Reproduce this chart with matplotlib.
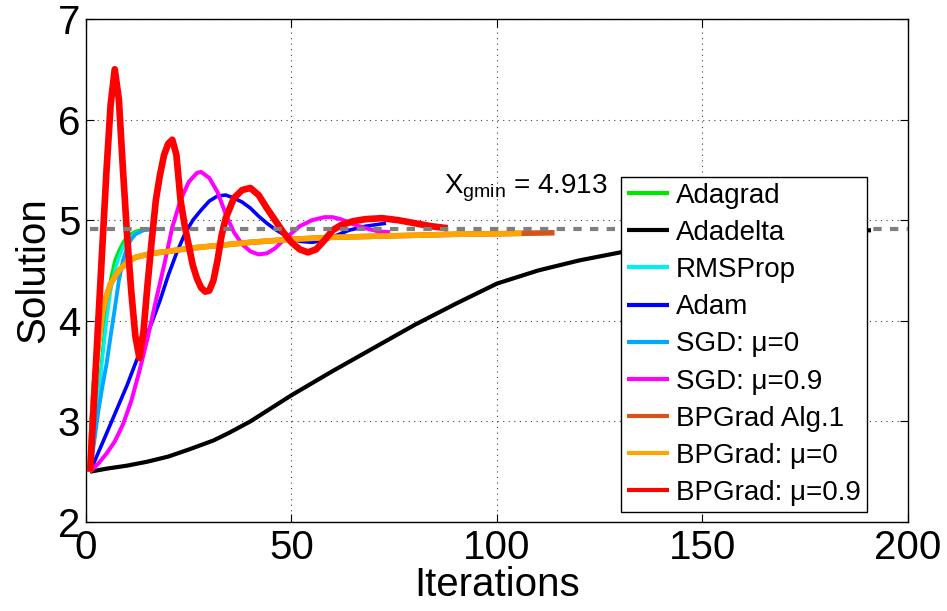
import matplotlib
matplotlib.use("Agg")
import matplotlib.pyplot as plt

plt.rcParams['font.family'] = ['Liberation Sans', 'DejaVu Sans']
plt.rcParams['mathtext.fontset'] = 'custom'
plt.rcParams['mathtext.rm'] = 'Liberation Sans'

x_gmin = 4.913

# Adagrad
adagrad_x = [1, 2, 3, 4, 5, 6, 7, 8, 9, 10, 12, 14, 16, 18]
adagrad_y = [2.5, 2.85, 3.25, 3.7, 4.1, 4.42, 4.6, 4.7, 4.78, 4.84, 4.89, 4.91, 4.913, 4.913]

# Adadelta
adadelta_x = [1, 5, 10, 15, 20, 25, 31, 35, 40, 45, 50, 55, 60, 70, 80, 90, 100, 110, 120, 130, 140, 150, 160, 170, 180, 191]
adadelta_y = [2.5, 2.53, 2.56, 2.6, 2.65, 2.72, 2.81, 2.89, 3.0, 3.13, 3.26, 3.38, 3.5, 3.73, 3.96, 4.17, 4.37, 4.5, 4.6, 4.68, 4.75, 4.8, 4.84, 4.87, 4.88, 4.9]

# RMSProp
rmsprop_x = [1, 2, 3, 4, 5, 6, 7, 8, 9, 10, 12, 14, 16, 18]
rmsprop_y = [2.5, 2.82, 3.2, 3.62, 4.0, 4.3, 4.5, 4.63, 4.73, 4.8, 4.87, 4.9, 4.91, 4.913]

# Adam
adam_x = [1, 5, 10, 13, 16, 18, 20, 22, 24, 26, 28, 30, 32, 34, 36, 38, 40, 42, 44, 46, 48, 50, 52, 55, 58, 61, 64, 68, 73]
adam_y = [2.5, 2.88, 3.36, 3.68, 3.98, 4.2, 4.45, 4.67, 4.86, 5.0, 5.1, 5.19, 5.24, 5.25, 5.22, 5.18, 5.12, 5.04, 4.97, 4.91, 4.86, 4.82, 4.79, 4.78, 4.8, 4.85, 4.9, 4.94, 4.97]

# SGD: mu=0
sgd0_x = [1, 2, 3, 4, 5, 6, 7, 8, 9, 10, 11, 12, 14, 16, 18]
sgd0_y = [2.5, 2.8, 3.1, 3.35, 3.57, 3.85, 4.12, 4.4, 4.6, 4.73, 4.81, 4.86, 4.9, 4.91, 4.913]

# SGD: mu=0.9
sgd9_x = [1, 3, 5, 7, 9, 11, 13, 15, 17, 19, 21, 23, 25, 27, 28, 30, 32, 34, 36, 38, 40, 42, 44, 46, 48, 50, 52, 55, 58, 60, 62, 65, 68, 71, 74]
sgd9_y = [2.5, 2.58, 2.68, 2.8, 2.97, 3.2, 3.5, 3.83, 4.2, 4.55, 4.93, 5.2, 5.38, 5.47, 5.48, 5.42, 5.28, 5.06, 4.88, 4.76, 4.69, 4.66, 4.67, 4.72, 4.8, 4.87, 4.94, 5.0, 5.03, 5.03, 5.01, 4.96, 4.92, 4.89, 4.88]

# BPGrad Alg.1
alg1_x = [1, 1.5, 2, 2.5, 3, 4, 5, 6, 8, 10, 12, 16, 20, 25, 30, 40, 50, 60, 70, 80, 90, 100, 107, 114]
alg1_y = [2.5, 3.0, 3.35, 3.58, 3.78, 4.08, 4.25, 4.37, 4.5, 4.58, 4.63, 4.67, 4.69, 4.72, 4.74, 4.78, 4.81, 4.83, 4.84, 4.85, 4.86, 4.865, 4.87, 4.875]

# BPGrad: mu=0
bp0_x = [1, 1.5, 2, 2.5, 3, 4, 5, 6, 8, 10, 12, 16, 20, 25, 30, 40, 50, 60, 70, 80, 90, 100, 106]
bp0_y = [2.5, 3.0, 3.35, 3.58, 3.78, 4.08, 4.25, 4.37, 4.5, 4.58, 4.63, 4.67, 4.69, 4.72, 4.74, 4.78, 4.81, 4.83, 4.84, 4.85, 4.86, 4.865, 4.87]

# BPGrad: mu=0.9
bp9_x = [1, 2, 3, 4, 5, 6, 7, 8, 9, 10, 11, 12, 13, 14, 15, 16, 17, 18, 19, 20, 21, 22, 23, 24, 25, 26, 27, 28, 29, 30, 31, 32, 33, 34, 36, 38, 40, 42, 44, 46, 48, 50, 52, 54, 56, 58, 60, 62, 65, 68, 72, 76, 80, 84, 88]
bp9_y = [2.5, 3.25, 4.0, 4.75, 5.5, 6.15, 6.5, 6.2, 5.5, 4.85, 4.3, 3.85, 3.63, 3.9, 4.37, 4.8, 5.2, 5.45, 5.65, 5.76, 5.8, 5.65, 5.2, 4.95, 4.75, 4.55, 4.42, 4.33, 4.29, 4.3, 4.4, 4.6, 4.85, 5.02, 5.22, 5.3, 5.32, 5.25, 5.12, 5.0, 4.88, 4.78, 4.71, 4.68, 4.71, 4.8, 4.9, 4.95, 4.99, 5.01, 5.02, 5.0, 4.97, 4.94, 4.92]

labels = ['Adagrad', 'Adadelta', 'RMSProp', 'Adam', 'SGD: \u03bc=0', 'SGD: \u03bc=0.9',
          'BPGrad Alg.1', 'BPGrad: \u03bc=0', 'BPGrad: \u03bc=0.9']
cores = ['#00e800', 'black', '#00f0f0', '#0000ff', '#00a8ff', '#ff00ff', '#d95319', '#ffa500', '#ff0000']
larguras = [2.2, 3.0, 2.4, 2.6, 2.8, 2.9, 4.0, 4.0, 4.8]

series = [(adagrad_x, adagrad_y), (adadelta_x, adadelta_y), (rmsprop_x, rmsprop_y),
          (adam_x, adam_y), (sgd0_x, sgd0_y), (sgd9_x, sgd9_y),
          (alg1_x, alg1_y), (bp0_x, bp0_y), (bp9_x, bp9_y)]

fig = plt.figure(figsize=(9.47, 6.11), dpi=100)
ax = fig.add_axes([0.0908, 0.1457, 0.868, 0.8232])

for i in range(len(series)):
    ax.plot(series[i][0], series[i][1], color=cores[i], linewidth=larguras[i],
            label=labels[i], solid_capstyle='butt', solid_joinstyle='round', zorder=3 + i)

# global minimum reference line
ax.plot([1, 200], [x_gmin, x_gmin], color='#7f7f7f', linewidth=3,
        linestyle=(0, (2, 2)), zorder=20)
ax.text(87, 5.27, r'X$_{\mathrm{gmin}}$ = %.3f' % x_gmin, fontsize=20, va='baseline', zorder=21)

ax.set_xlim(0, 200)
ax.set_ylim(2, 7)
ax.set_xticks([0, 50, 100, 150, 200])
ax.set_yticks([2, 3, 4, 5, 6, 7])
ax.tick_params(direction='in', length=6, width=0.8, top=True, right=True, labelsize=29)
ax.tick_params(axis='x', pad=5)
ax.tick_params(axis='y', pad=4)
ax.grid(True, linestyle=(0, (1, 4)), color='#404040', linewidth=0.8)
ax.set_axisbelow(True)
for s in ax.spines.values():
    s.set_linewidth(1.0)

ax.set_xlabel('Iterations', fontsize=29, labelpad=-1)
ax.set_ylabel('Solution', fontsize=29, labelpad=4)

leg = ax.legend(loc='lower right', bbox_to_anchor=(0.950, 0.0199), borderaxespad=0,
                fontsize=20, fancybox=False, framealpha=1, edgecolor='black',
                handlelength=1.5, handletextpad=0.25, labelspacing=0.40, borderpad=0.22)
leg.set_zorder(30)
leg.get_frame().set_linewidth(1.0)
for l in leg.get_lines():
    l.set_linewidth(3)

fig.savefig('out.png', dpi=100)
